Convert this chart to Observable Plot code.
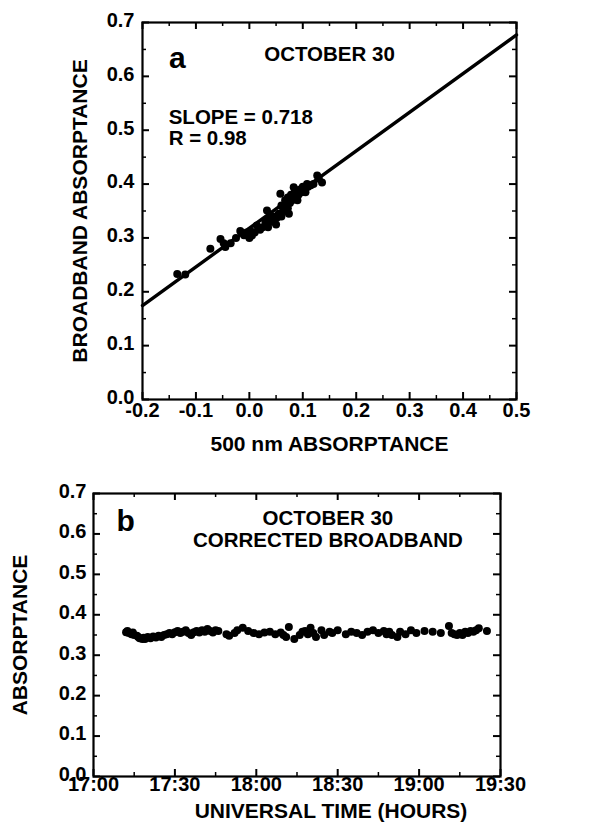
<!DOCTYPE html>
<html>
<head>
<meta charset="utf-8">
<script src="https://cdn.jsdelivr.net/npm/d3@7"></script>
<script src="https://cdn.jsdelivr.net/npm/@observablehq/plot@0.6"></script>
<style>
  html, body { margin: 0; padding: 0; background: #fff; }
  #chart { width: 603px; height: 834px; }
  #chart svg { display: block; }
</style>
</head>
<body>
<div id="chart"></div>
<script>
// ---------- Panel a: broadband vs 500 nm absorptance ----------
const absorb500 = [-0.135,-0.120,-0.073,-0.054,-0.048,-0.045,-0.035,-0.025,-0.017,-0.010,-0.005,0.000,0.002,0.005,0.010,0.014,0.020,0.025,0.030,0.033,0.035,0.038,0.042,0.045,0.050,0.052,0.055,0.058,0.060,0.060,0.063,0.065,0.067,0.070,0.072,0.072,0.074,0.076,0.078,0.080,0.083,0.085,0.087,0.090,0.090,0.092,0.095,0.098,0.100,0.103,0.105,0.108,0.110,0.115,0.120,0.127,0.130,0.136];
const absorbBroad = [0.233,0.232,0.280,0.298,0.290,0.283,0.290,0.300,0.313,0.305,0.310,0.300,0.313,0.305,0.310,0.323,0.315,0.320,0.330,0.351,0.320,0.335,0.330,0.340,0.325,0.338,0.345,0.382,0.360,0.340,0.350,0.355,0.370,0.360,0.375,0.355,0.345,0.365,0.380,0.370,0.394,0.385,0.375,0.388,0.370,0.380,0.390,0.385,0.395,0.390,0.385,0.400,0.395,0.398,0.400,0.416,0.410,0.403];
const fitSlope = 0.718;
const fitIntercept = 0.318;
const fitR = 0.98;
const fitX = [-0.2, 0.5];
const xTicksA = [-0.2,-0.1,0.0,0.1,0.2,0.3,0.4,0.5];
const xTickLabelsA = ["-0.2","-0.1","0.0","0.1","0.2","0.3","0.4","0.5"];
const xMinorA = [-0.15,-0.05,0.05,0.15,0.25,0.35,0.45];
const yTicks = [0.0,0.1,0.2,0.3,0.4,0.5,0.6,0.7];
const yTickLabels = ["0.0","0.1","0.2","0.3","0.4","0.5","0.6","0.7"];
const yMinor = [0.05,0.15,0.25,0.35,0.45,0.55,0.65];

// ---------- Panel b: corrected broadband vs time ----------
const timeUT = ["17:12","17:12.5","17:13","17:14","17:14.5","17:15","17:16","17:16.5","17:17","17:18","17:18.5","17:19","17:20","17:21","17:22","17:23","17:24","17:25","17:26","17:27","17:28","17:29","17:30","17:31","17:32","17:33","17:34","17:35","17:36","17:37","17:38","17:39","17:40","17:41","17:42","17:43","17:44","17:45","17:46",
  "17:49","17:50","17:52","17:53","17:55","17:57","17:59","18:01","18:03","18:05","18:07","18:09","18:10","18:11","18:12","18:14","18:16","18:17","18:18","18:19","18:20","18:21","18:22","18:24","18:25","18:27","18:28","18:30","18:33","18:35","18:37","18:39","18:41","18:43","18:45","18:47","18:48","18:49","18:50","18:52","18:53","18:55","18:57","18:59","19:02","19:05","19:08","19:11","19:12","19:13","19:14","19:15","19:16","19:17","19:18","19:19","19:20","19:21","19:22","19:25"];
const corrected = [0.357,0.360,0.355,0.352,0.356,0.350,0.348,0.345,0.342,0.340,0.343,0.340,0.345,0.342,0.346,0.344,0.348,0.345,0.350,0.352,0.355,0.352,0.357,0.360,0.355,0.358,0.362,0.355,0.350,0.357,0.360,0.356,0.362,0.358,0.365,0.360,0.356,0.362,0.360,
  0.352,0.348,0.355,0.362,0.368,0.360,0.355,0.352,0.356,0.358,0.352,0.356,0.350,0.345,0.370,0.340,0.350,0.358,0.360,0.352,0.368,0.355,0.345,0.362,0.350,0.358,0.355,0.362,0.352,0.358,0.355,0.350,0.358,0.362,0.355,0.360,0.352,0.358,0.350,0.345,0.358,0.352,0.362,0.355,0.360,0.358,0.355,0.372,0.355,0.352,0.350,0.355,0.350,0.358,0.355,0.360,0.358,0.362,0.367,0.360,0.375];
const xTicksB = [17, 17.5, 18, 18.5, 19, 19.5];
const xTickLabelsB = ["17:00","17:30","18:00","18:30","19:00","19:30"];
const xMinorB = [17.25, 17.75, 18.25, 18.75, 19.25];

const toHours = s => { const [h, m] = s.split(":"); return +h + (+m) / 60; };

const font = "'Liberation Sans', Arial, Helvetica, sans-serif";
const baseStyle = {fontFamily: font, fontSize: "20px", fontWeight: "bold", color: "#000", background: "#fff", overflow: "visible"};

const scatterA = absorb500.map((x, i) => ({x, y: absorbBroad[i]}));
const fitA = fitX.map(x => ({x, y: fitIntercept + fitSlope * x}));
const seriesB = timeUT.map((t, i) => ({t: toHours(t), v: corrected[i]}));

function tickMarks(hFrame, wFrame, xMaj, xMin, yMaj, yMin) {
  const M = 7, m = 4;
  return [
    Plot.tickX(xMaj, {x: d => d, insetTop: hFrame - M, strokeWidth: 2}),
    Plot.tickX(xMaj, {x: d => d, insetBottom: hFrame - M, strokeWidth: 2}),
    Plot.tickX(xMin, {x: d => d, insetTop: hFrame - m, strokeWidth: 1.5}),
    Plot.tickX(xMin, {x: d => d, insetBottom: hFrame - m, strokeWidth: 1.5}),
    Plot.tickY(yMaj, {y: d => d, insetRight: wFrame - M, strokeWidth: 2}),
    Plot.tickY(yMaj, {y: d => d, insetLeft: wFrame - M, strokeWidth: 2}),
    Plot.tickY(yMin, {y: d => d, insetRight: wFrame - m, strokeWidth: 1.5}),
    Plot.tickY(yMin, {y: d => d, insetLeft: wFrame - m, strokeWidth: 1.5})
  ];
}

const TICK_FS = 20, TITLE_FS = 21, NOTE_FS = 20.5;

function tickLabels(xTicks, xLabels, yTicksArr, yLabels, xDy, yDx) {
  return [
    Plot.text(xTicks, {x: d => d, frameAnchor: "bottom", dy: xDy, text: (d, i) => xLabels[i], fontSize: TICK_FS, fontWeight: "bold"}),
    Plot.text(yTicksArr, {y: d => d, frameAnchor: "left", dx: yDx, dy: -2, textAnchor: "end", text: (d, i) => yLabels[i], fontSize: TICK_FS, fontWeight: "bold"})
  ];
}

// Panel a
const mA = {top: 22, bottom: 71, left: 142, right: 87};
const hA = 470, wA = 603;
const plotA = Plot.plot({
  width: wA, height: hA,
  marginTop: mA.top, marginBottom: mA.bottom, marginLeft: mA.left, marginRight: mA.right,
  style: baseStyle,
  x: {domain: [-0.2, 0.5], label: null, axis: null},
  y: {domain: [0, 0.7], label: null, axis: null},
  marks: [
    Plot.line(fitA, {x: "x", y: "y", stroke: "#000", strokeWidth: 3.4}),
    Plot.dot(scatterA, {x: "x", y: "y", r: 4, fill: "#000", stroke: "none"}),
    ...tickMarks(hA - mA.top - mA.bottom, wA - mA.left - mA.right, xTicksA, xMinorA, yTicks, yMinor),
    Plot.frame({stroke: "#000", strokeWidth: 2.2}),
    ...tickLabels(xTicksA, xTickLabelsA, yTicks, yTickLabels, 17, -8),
    Plot.text(["500 nm ABSORPTANCE"], {frameAnchor: "bottom", dy: 51, text: d => d, fontSize: TITLE_FS, fontWeight: "bold"}),
    Plot.text(["BROADBAND ABSORPTANCE"], {frameAnchor: "left", dx: -62, rotate: -90, textAnchor: "middle", text: d => d, fontSize: TITLE_FS, fontWeight: "bold"}),
    Plot.text(["a"], {x: -0.1346, y: 0.633, text: d => d, fontSize: 30, fontWeight: "bold"}),
    Plot.text(["OCTOBER 30"], {x: 0.15, y: 0.641, text: d => d, fontSize: NOTE_FS, fontWeight: "bold"}),
    Plot.text(["SLOPE = " + fitSlope.toFixed(3)], {x: -0.151, y: 0.524, text: d => d, textAnchor: "start", fontSize: NOTE_FS, fontWeight: "bold"}),
    Plot.text(["R = " + fitR.toFixed(2)], {x: -0.151, y: 0.485, text: d => d, textAnchor: "start", fontSize: NOTE_FS, fontWeight: "bold"})
  ]
});

// Panel b
const mB = {top: 23, bottom: 58, left: 93, right: 103};
const hB = 364, wB = 603;
const plotB = Plot.plot({
  width: wB, height: hB,
  marginTop: mB.top, marginBottom: mB.bottom, marginLeft: mB.left, marginRight: mB.right,
  style: baseStyle,
  x: {domain: [17, 19.5], label: null, axis: null},
  y: {domain: [0, 0.7], label: null, axis: null},
  marks: [
    Plot.dot(seriesB, {x: "t", y: "v", r: 4, fill: "#000", stroke: "none"}),
    ...tickMarks(hB - mB.top - mB.bottom, wB - mB.left - mB.right, xTicksB, xMinorB, yTicks, yMinor),
    Plot.frame({stroke: "#000", strokeWidth: 2.2}),
    ...tickLabels(xTicksB, xTickLabelsB, yTicks, yTickLabels, 14, -7),
    Plot.text(["UNIVERSAL TIME (HOURS)"], {frameAnchor: "bottom", dy: 41, dx: 34, text: d => d, fontSize: TITLE_FS, fontWeight: "bold"}),
    Plot.text(["ABSORPTANCE"], {frameAnchor: "left", dx: -73, rotate: -90, textAnchor: "middle", text: d => d, fontSize: TITLE_FS, fontWeight: "bold"}),
    Plot.text(["b"], {x: 17.197, y: 0.632, text: d => d, fontSize: 30, fontWeight: "bold"}),
    Plot.text(["OCTOBER 30"], {x: 18.44, y: 0.638, text: d => d, fontSize: NOTE_FS, fontWeight: "bold"}),
    Plot.text(["CORRECTED BROADBAND"], {x: 18.44, y: 0.584, text: d => d, fontSize: NOTE_FS, fontWeight: "bold"})
  ]
});

const chart = document.getElementById("chart");
chart.appendChild(plotA);
chart.appendChild(plotB);
</script>
</body>
</html>
